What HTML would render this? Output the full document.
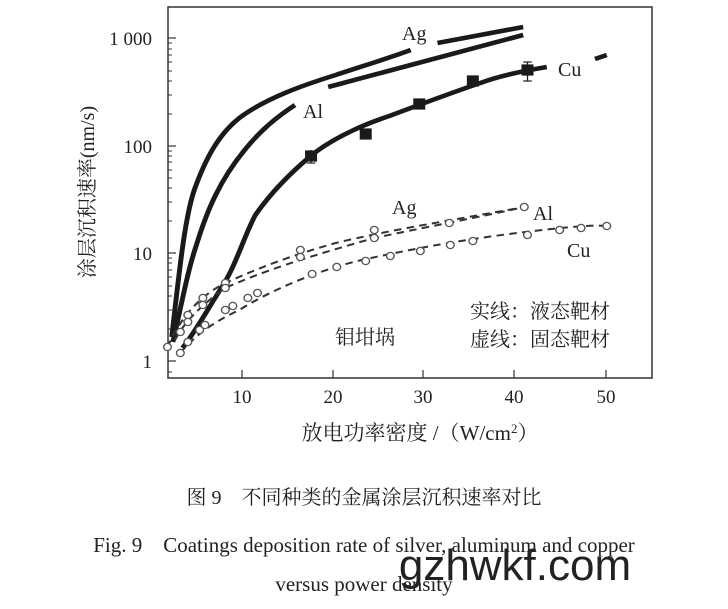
<!DOCTYPE html>
<html><head><meta charset="utf-8"><style>
body{margin:0;background:#fff;}
svg{display:block;}
text{font-family:"Liberation Serif","Noto Serif CJK SC",serif;fill:#222;}
</style></head><body>
<svg width="728" height="609" viewBox="0 0 728 609" xmlns="http://www.w3.org/2000/svg">
<rect x="168" y="7" width="484" height="371" fill="none" stroke="#333" stroke-width="1.5"/>
<g stroke="#333" stroke-width="1.2">
<line x1="242" y1="378" x2="242" y2="370"/><line x1="333" y1="378" x2="333" y2="370"/>
<line x1="423" y1="378" x2="423" y2="370"/><line x1="514" y1="378" x2="514" y2="370"/>
<line x1="606" y1="378" x2="606" y2="370"/>
<line x1="168" y1="38" x2="176" y2="38"/><line x1="168" y1="146" x2="176" y2="146"/>
<line x1="168" y1="253" x2="176" y2="253"/><line x1="168" y1="361" x2="176" y2="361"/>
<g stroke-width="1">
<line x1="168" y1="372" x2="172" y2="372"/>
<line x1="168" y1="329" x2="172" y2="329"/><line x1="168" y1="310" x2="172" y2="310"/><line x1="168" y1="296" x2="172" y2="296"/><line x1="168" y1="286" x2="172" y2="286"/><line x1="168" y1="277" x2="172" y2="277"/><line x1="168" y1="270" x2="172" y2="270"/><line x1="168" y1="263" x2="172" y2="263"/><line x1="168" y1="258" x2="172" y2="258"/>
<line x1="168" y1="221" x2="172" y2="221"/><line x1="168" y1="202" x2="172" y2="202"/><line x1="168" y1="188" x2="172" y2="188"/><line x1="168" y1="178" x2="172" y2="178"/><line x1="168" y1="170" x2="172" y2="170"/><line x1="168" y1="162" x2="172" y2="162"/><line x1="168" y1="156" x2="172" y2="156"/><line x1="168" y1="151" x2="172" y2="151"/>
<line x1="168" y1="114" x2="172" y2="114"/><line x1="168" y1="95" x2="172" y2="95"/><line x1="168" y1="81" x2="172" y2="81"/><line x1="168" y1="71" x2="172" y2="71"/><line x1="168" y1="62" x2="172" y2="62"/><line x1="168" y1="55" x2="172" y2="55"/><line x1="168" y1="49" x2="172" y2="49"/><line x1="168" y1="43" x2="172" y2="43"/>
</g></g>
<g font-size="19" text-anchor="end">
<text x="152" y="45">1 000</text><text x="152" y="153">100</text><text x="152" y="260">10</text><text x="152" y="368">1</text>
</g>
<g font-size="19" text-anchor="middle">
<text x="242" y="403">10</text><text x="333" y="403">20</text><text x="423" y="403">30</text><text x="514" y="403">40</text><text x="606" y="403">50</text>
</g>
<text x="420" y="440" font-size="21" text-anchor="middle">放电功率密度 /（W/cm<tspan font-size="13" dy="-7">2</tspan><tspan dy="7">）</tspan></text>
<text transform="translate(94,192) rotate(-90)" font-size="20" text-anchor="middle">涂层沉积速率(nm/s)</text>

<g transform="matrix(1.0714,0,0,1,-7.14,0)">
<g fill="none" stroke="#1a1a1a" stroke-width="4.6">
<path d="M167,337 C175,260 180,215 188,190 C198,160 210,135 230,118 C255,98 290,85 320,75 C345,66 370,58 390,50"/>
<path d="M415,43 L495,27"/>
<path d="M168,342 C177,300 182,270 190,245 C200,210 212,180 235,150 C250,130 265,117 282,105"/>
<path d="M313,87 L495,35"/>
<path d="M177,348 C190,330 200,310 215,285 C228,262 235,235 245,215 C258,195 275,175 300,153 C320,137 345,125 370,116 C400,104 430,92 455,83 C475,75 500,70 517,67"/>
<path d="M562,59 L573,55"/>
</g>
<g fill="#1a1a1a" stroke="#1a1a1a" stroke-width="1.2">
<rect x="292" y="151" width="10" height="10"/><rect x="343" y="129" width="10" height="10"/>
<rect x="393" y="99" width="10" height="10"/><rect x="443" y="76" width="10" height="10"/><rect x="494" y="65" width="10" height="10"/>
<line x1="297" y1="150" x2="297" y2="163"/><line x1="293" y1="163" x2="301" y2="163"/>
<line x1="499" y1="62" x2="499" y2="81"/><line x1="495" y1="62" x2="503" y2="62"/><line x1="495" y1="81" x2="503" y2="81"/>
</g>
<g fill="none" stroke="#333" stroke-width="2" stroke-dasharray="7,5">
<path d="M163,347 C170,330 185,300 217,283 C250,267 280,255 320,243 C370,230 430,220 496,207"/>
<path d="M170,340 C180,320 195,305 217,288 C250,272 290,258 356,238 C400,228 450,218 496,207"/>
<path d="M175,353 C185,340 200,325 230,310 C260,290 300,272 340,261 C400,247 450,237 530,228 C550,226 565,225 573,226"/>
</g>
<g fill="#fff" stroke="#555" stroke-width="1.3">
<circle cx="163" cy="347" r="3.6"/><circle cx="175" cy="332" r="3.6"/><circle cx="182" cy="315" r="3.6"/><circle cx="182" cy="322" r="3.6"/>
<circle cx="196" cy="298" r="3.6"/><circle cx="196" cy="305" r="3.6"/><circle cx="217" cy="283" r="3.6"/><circle cx="217" cy="288" r="3.6"/>
<circle cx="287" cy="250" r="3.6"/><circle cx="287" cy="257" r="3.6"/><circle cx="356" cy="230" r="3.6"/><circle cx="356" cy="238" r="3.6"/>
<circle cx="426" cy="223" r="3.6"/><circle cx="496" cy="207" r="3.6"/>
<circle cx="175" cy="353" r="3.6"/><circle cx="182" cy="342" r="3.6"/><circle cx="193" cy="330" r="3.6"/><circle cx="198" cy="325" r="3.6"/>
<circle cx="217" cy="310" r="3.6"/><circle cx="224" cy="306" r="3.6"/><circle cx="238" cy="298" r="3.6"/><circle cx="247" cy="293" r="3.6"/>
<circle cx="298" cy="274" r="3.6"/><circle cx="321" cy="267" r="3.6"/><circle cx="348" cy="261" r="3.6"/><circle cx="371" cy="256" r="3.6"/>
<circle cx="399" cy="251" r="3.6"/><circle cx="427" cy="245" r="3.6"/><circle cx="448" cy="241" r="3.6"/><circle cx="499" cy="235" r="3.6"/>
<circle cx="529" cy="230" r="3.6"/><circle cx="549" cy="228" r="3.6"/><circle cx="573" cy="226" r="3.6"/>
</g>
</g>
<g font-size="20">
<text x="402" y="40">Ag</text><text x="303" y="118">Al</text><text x="558" y="76">Cu</text>
<text x="392" y="214">Ag</text><text x="533" y="220">Al</text><text x="567" y="257">Cu</text>
<text x="365" y="344" text-anchor="middle">钼坩埚</text>
<text x="470" y="318">实线：液态靶材</text>
<text x="470" y="346">虚线：固态靶材</text>
</g>
<text x="364" y="504" font-size="20" text-anchor="middle">图 9　不同种类的金属涂层沉积速率对比</text>
<text x="364" y="552" font-size="21" text-anchor="middle">Fig. 9　Coatings deposition rate of silver, aluminum and copper</text>
<text x="364" y="591" font-size="21" text-anchor="middle">versus power density</text>
<text x="515" y="580" font-size="44" text-anchor="middle" style="font-family:'Liberation Sans',sans-serif" fill="#111">gzhwkf.com</text>
</svg>
</body></html>
